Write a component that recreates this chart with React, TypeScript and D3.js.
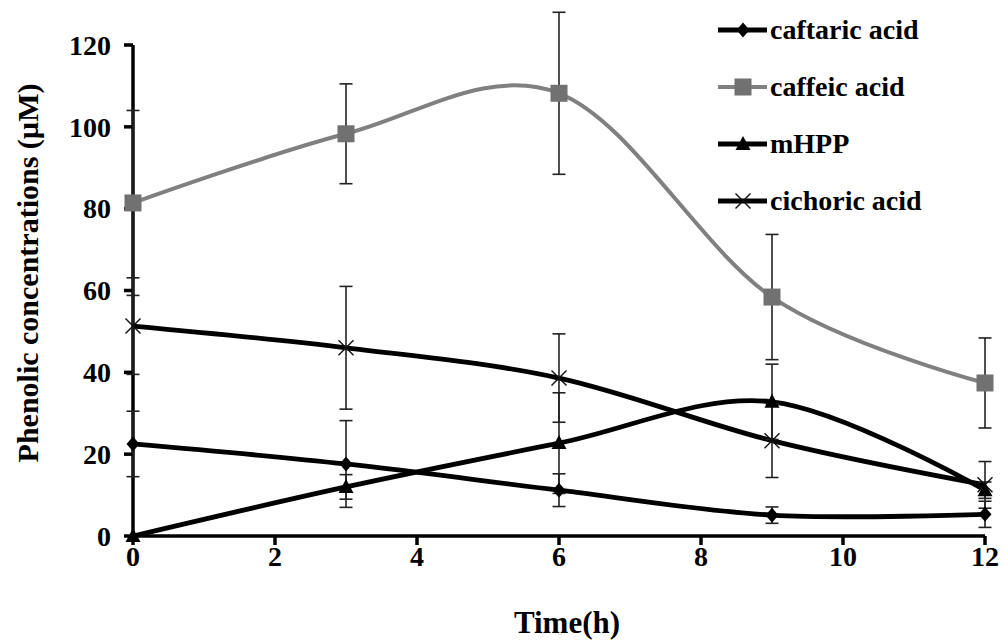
import React from "react";
import * as d3 from "d3";

const times = [0, 3, 6, 9, 12];
const caftaric = [22.5, 17.6, 11.2, 5.1, 5.3];
const caftaricErr = [8, 10.6, 4, 2, 3.2];
const caffeic = [81.4, 98.3, 108.2, 58.4, 37.4];
const caffeicErr = [22.6, 12.2, 19.8, 15.3, 11];
const mhpp = [0, 12, 22.7, 32.8, 11.2];
const mhppErr = [0, 3, 12.3, 9.2, 2];
const cichoric = [51.3, 46, 38.6, 23.3, 12.5];
const cichoricErr = [11.8, 15, 10.8, 9, 5.7];

const xTicks = [0, 2, 4, 6, 8, 10, 12];
const yTicks = [0, 20, 40, 60, 80, 100, 120];
const seriesNames = ["caftaric acid", "caffeic acid", "mHPP", "cichoric acid"];

const FONT = "'Liberation Serif', 'Times New Roman', serif";

type Series = {
  name: string;
  values: number[];
  errs: number[];
  color: string;
  width: number;
  marker: string;
};

const series: Series[] = [
  { name: seriesNames[1], values: caffeic, errs: caffeicErr, color: "#808080", width: 4, marker: "square" },
  { name: seriesNames[3], values: cichoric, errs: cichoricErr, color: "#000", width: 4.8, marker: "x" },
  { name: seriesNames[2], values: mhpp, errs: mhppErr, color: "#000", width: 4.8, marker: "triangle" },
  { name: seriesNames[0], values: caftaric, errs: caftaricErr, color: "#000", width: 4.8, marker: "diamond" },
];

const legendOrder = [seriesNames[0], seriesNames[1], seriesNames[2], seriesNames[3]];

function Marker({ type, cx, cy }: { type: string; cx: number; cy: number }) {
  if (type === "square") {
    return <rect x={cx - 8.5} y={cy - 8.5} width={17} height={17} fill="#717171" />;
  }
  if (type === "diamond") {
    return (
      <path
        d={`M${cx},${cy - 7.5}L${cx + 6.5},${cy}L${cx},${cy + 7.5}L${cx - 6.5},${cy}Z`}
        fill="#000"
      />
    );
  }
  if (type === "triangle") {
    return (
      <path
        d={`M${cx},${cy - 8}L${cx + 7.5},${cy + 6}L${cx - 7.5},${cy + 6}Z`}
        fill="#000"
      />
    );
  }
  const s = 7.5;
  return (
    <g stroke="#111" strokeWidth={1.4}>
      <line x1={cx - s} y1={cy - s} x2={cx + s} y2={cy + s} />
      <line x1={cx - s} y1={cy + s} x2={cx + s} y2={cy - s} />
    </g>
  );
}

export default function App() {
  const x = d3.scaleLinear().domain([0, 12]).range([133, 985]);
  const y = d3.scaleLinear().domain([0, 120]).range([536, 45]);

  const line = d3
    .line<[number, number]>()
    .x((d) => x(d[0]))
    .y((d) => y(d[1]))
    .curve(d3.curveCardinal.tension(0));

  const legendY = [30, 87, 144, 201];

  return (
    <svg
      width={1005}
      height={640}
      style={{ position: "absolute", left: 0, top: 0, background: "#fff" }}
      fontFamily={FONT}
    >
      <rect x={0} y={0} width={1005} height={640} fill="#fff" />

      {series.map((s) => (
        <path
          key={s.name}
          d={line(times.map((t, i) => [t, s.values[i]] as [number, number])) || ""}
          fill="none"
          stroke={s.color}
          strokeWidth={s.width}
          strokeLinejoin="round"
        />
      ))}

      <g stroke="#000" strokeWidth={3.5}>
        <line x1={x(0)} y1={y(0)} x2={x(12)} y2={y(0)} />
        <line x1={x(0)} y1={y(0) + 1.5} x2={x(0)} y2={y(120)} />
        {xTicks.map((t) => (
          <line key={"xt" + t} x1={x(t)} y1={y(0)} x2={x(t)} y2={y(0) + 9} />
        ))}
        {yTicks.map((t) => (
          <line key={"yt" + t} x1={x(0) - 9} y1={y(t)} x2={x(0)} y2={y(t)} />
        ))}
      </g>

      {series.map((s) =>
        times.map((t, i) =>
          s.errs[i] > 0 ? (
            <g key={s.name + "e" + t} stroke="#222" strokeWidth={1.6}>
              <line x1={x(t)} x2={x(t)} y1={y(s.values[i] + s.errs[i])} y2={y(s.values[i] - s.errs[i])} />
              <line x1={x(t) - 6.5} x2={x(t) + 6.5} y1={y(s.values[i] + s.errs[i])} y2={y(s.values[i] + s.errs[i])} />
              <line x1={x(t) - 6.5} x2={x(t) + 6.5} y1={y(s.values[i] - s.errs[i])} y2={y(s.values[i] - s.errs[i])} />
            </g>
          ) : null
        )
      )}

      {series.map((s) =>
        times.map((t, i) => <Marker key={s.name + "m" + t} type={s.marker} cx={x(t)} cy={y(s.values[i])} />)
      )}

      {yTicks.map((t) => (
        <text
          key={"yl" + t}
          x={111}
          y={y(t)}
          dy="0.35em"
          textAnchor="end"
          fontSize={28}
          fontWeight="bold"
        >
          {t}
        </text>
      ))}
      {xTicks.map((t) => (
        <text
          key={"xl" + t}
          x={x(t)}
          y={566}
          textAnchor="middle"
          fontSize={28}
          fontWeight="bold"
        >
          {t}
        </text>
      ))}

      <text x={567} y={633} textAnchor="middle" fontSize={31} fontWeight="bold">
        Time(h)
      </text>
      <text
        transform="translate(38,273) rotate(-90)"
        textAnchor="middle"
        fontSize={30}
        fontWeight="bold"
      >
        Phenolic concentrations (µM)
      </text>

      {legendOrder.map((name, i) => {
        const s = series.find((d) => d.name === name)!;
        const ly = legendY[i];
        return (
          <g key={"lg" + name}>
            <line x1={718} x2={767} y1={ly} y2={ly} stroke={s.color} strokeWidth={s.width} />
            <Marker type={s.marker} cx={743} cy={ly} />
            <text x={770} y={ly} dy="0.33em" fontSize={28} fontWeight="bold">
              {name}
            </text>
          </g>
        );
      })}
    </svg>
  );
}
